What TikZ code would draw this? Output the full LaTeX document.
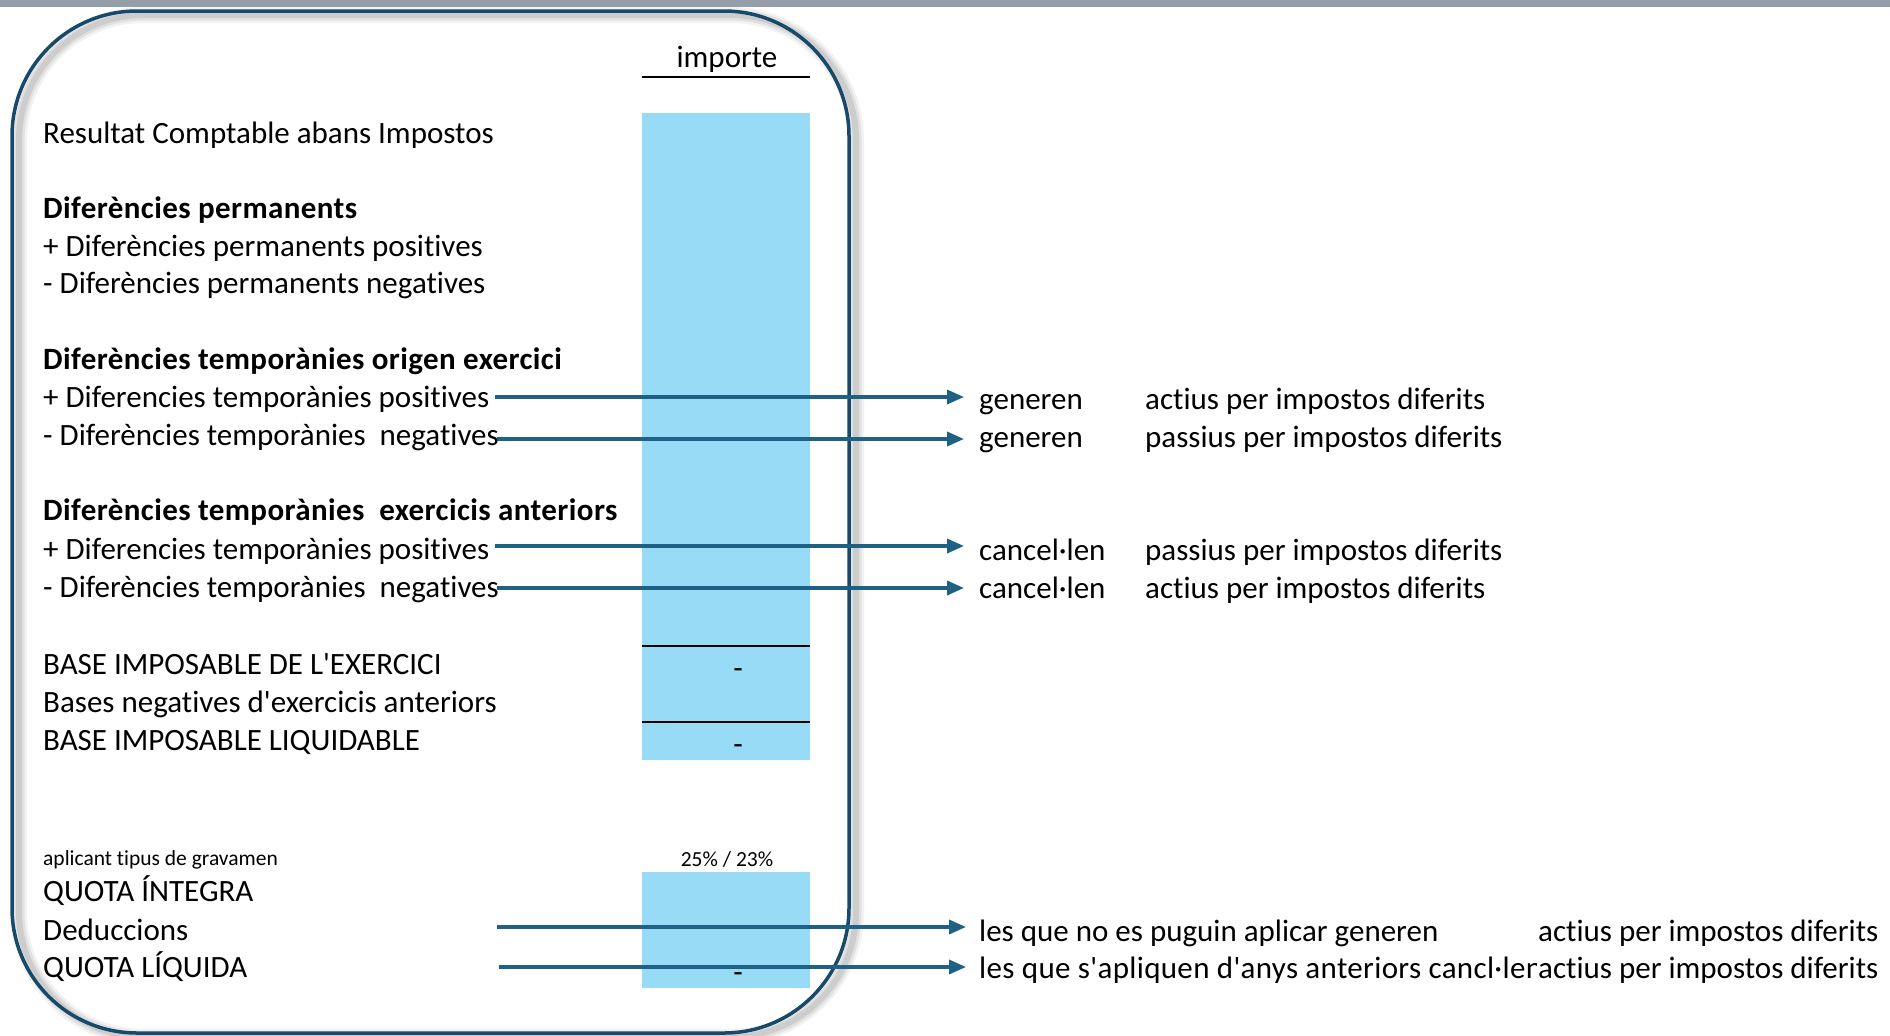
\documentclass[tikz,border=0pt]{standalone}
\usepackage{fontspec}
\setmainfont{Carlito}[Ligatures={TeXOff,CommonOff}]
\usetikzlibrary{arrows.meta}
\definecolor{frame}{HTML}{17496A}
\definecolor{arrowc}{HTML}{1F6185}
\definecolor{cell}{HTML}{97DBF6}
\definecolor{topbar}{HTML}{969FA9}
\tikzset{
  lbl/.style={anchor=base west, inner sep=0pt, font=\fontsize{31}{37}\selectfont},
  lblb/.style={anchor=base west, inner sep=0pt, font=\fontsize{31}{37}\selectfont\bfseries\addfontfeatures{LetterSpace=1.3}},
  smalllbl/.style={inner sep=0pt, font=\fontsize{21.5}{26}\selectfont},
  dashlbl/.style={anchor=base, inner sep=0pt, font=\fontsize{31}{37}\selectfont},
  arr/.style={draw=arrowc, line width=3.5pt, -{Triangle[length=17pt,width=14pt]}},
  ruleline/.style={line width=2.6pt, black},
  cellbox/.style={fill=cell, draw=none},
  framebox/.style={draw=frame, line width=3.5pt, rounded corners=125pt},
}
\begin{document}
\begin{tikzpicture}[x=1pt,y=-1pt]
\useasboundingbox (0,0) rectangle (1890,1036);
% top bar
\fill[topbar] (0,0) rectangle (1890,7);
% shadow of the frame
\foreach \w/\o in {16/0.05, 11/0.07, 6/0.09}
  \draw[black, opacity=\o, line width=\w pt, rounded corners=125pt] (19,15) rectangle (856,1037);
% frame
\draw[framebox] (12,11) rectangle (849,1033);
% value cells
\fill[cellbox] (642,113) rectangle (810,760);
\fill[cellbox] (642,872) rectangle (810,988);
\draw[ruleline] (642,77) -- (810,77);
\draw[ruleline] (642,646) -- (810,646);
\draw[ruleline] (642,722) -- (810,722);
% header and values
\node[dashlbl] (imp) at (727,67) {importe};
\node[smalllbl, anchor=base] (rate) at (727,866) {25\% / 23\%};
\node[dashlbl] (v1) at (738,678) {-};
\node[dashlbl] (v2) at (738,754) {-};
\node[dashlbl] (v3) at (738,982) {-};
% left labels
\node[lbl]  (r1)  at (43,143) {Resultat Comptable abans Impostos};
\node[lblb] (r2)  at (43,218) {Diferències permanents};
\node[lbl]  (r3)  at (43,256) {+ Diferències permanents positives};
\node[lbl]  (r4)  at (43,293) {- Diferències permanents negatives};
\node[lblb] (r5)  at (43,369) {Diferències temporànies origen exercici};
\node[lbl]  (r6)  at (43,407) {+ Diferencies temporànies positives};
\node[lbl]  (r7)  at (43,445) {- Diferències temporànies\ \ negatives};
\node[lblb] (r8)  at (43,520) {Diferències temporànies\ \ exercicis anteriors};
\node[lbl]  (r9)  at (43,559) {+ Diferencies temporànies positives};
\node[lbl]  (r10) at (43,597) {- Diferències temporànies\ \ negatives};
\node[lbl]  (r11) at (43,674) {BASE IMPOSABLE DE L'EXERCICI};
\node[lbl]  (r12) at (43,712) {Bases negatives d'exercicis anteriors};
\node[lbl]  (r13) at (43,750) {BASE IMPOSABLE LIQUIDABLE};
\node[smalllbl, anchor=base west] (r14) at (43,865) {aplicant tipus de gravamen};
\node[lbl]  (r15) at (43,901) {QUOTA ÍNTEGRA};
\node[lbl]  (r16) at (43,940) {Deduccions};
\node[lbl]  (r17) at (43,977) {QUOTA LÍQUIDA};
% right labels
\node[lbl] (g1) at (979,409) {generen};
\node[lbl] (t1) at (1145,409) {actius per impostos diferits};
\node[lbl] (g2) at (979,447) {generen};
\node[lbl] (t2) at (1145,447) {passius per impostos diferits};
\node[lbl] (g3) at (979,560) {cancel·len};
\node[lbl] (t3) at (1145,560) {passius per impostos diferits};
\node[lbl] (g4) at (979,598) {cancel·len};
\node[lbl] (t4) at (1145,598) {actius per impostos diferits};
\node[lbl] (g5) at (979,941) {les que no es puguin aplicar generen};
\node[lbl] (t5) at (1538,941) {actius per impostos diferits};
\begin{scope}
  \clip (970,945) rectangle (1536,1000);
  \node[lbl, font=\fontsize{31}{37}\selectfont\addfontfeatures{LetterSpace=1.1}] (g6) at (979,978) {les que s'apliquen d'anys anteriors cancl·len};
\end{scope}
\node[lbl] (t6) at (1538,978) {actius per impostos diferits};
% connectors
\coordinate (s1) at (495,397); \coordinate (e1) at (964,397);
\coordinate (s2) at (497,439); \coordinate (e2) at (964,439);
\coordinate (s3) at (495,546); \coordinate (e3) at (964,546);
\coordinate (s4) at (497,588); \coordinate (e4) at (964,588);
\coordinate (s5) at (497,927); \coordinate (e5) at (966,927);
\coordinate (s6) at (499,967); \coordinate (e6) at (966,967);
\draw[arr] (s1) -- (e1);
\draw[arr] (s2) -- (e2);
\draw[arr] (s3) -- (e3);
\draw[arr] (s4) -- (e4);
\draw[arr] (s5) -- (e5);
\draw[arr] (s6) -- (e6);
\end{tikzpicture}
\end{document}
